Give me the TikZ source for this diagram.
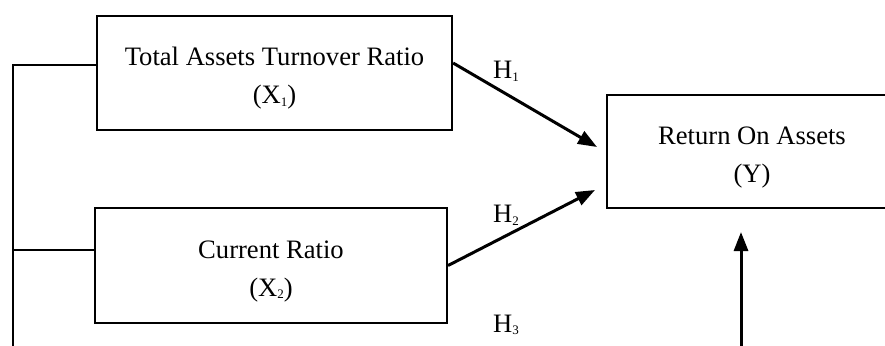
\documentclass[tikz,border=0pt]{standalone}
\usepackage{fontspec}
\setmainfont{Liberation Serif}
\usetikzlibrary{arrows.meta,calc}
% small lowered index digit, as in X1, H1
\newcommand{\lowidx}[1]{\raisebox{-0.1em}{\fontsize{13}{13}\selectfont #1}}
% extra room above the first line of a box text
\newcommand{\topstrut}{\rule{0pt}{29pt}}
\begin{document}
\begin{tikzpicture}[x=1pt,y=-1pt,
  box/.style={draw,line width=2.2pt,align=center,inner sep=0pt,
    font=\fontsize{26.6}{38}\selectfont},
  link/.style={line width=2.4pt},
  arr/.style={line width=3pt,-{Triangle[length=19pt,width=14pt]}},
  hyp/.style={font=\fontsize{26.6}{26.6}\selectfont}]
\useasboundingbox (0,0) rectangle (885,345);
\clip (0,0) rectangle (885,345);
\fill[white] (0,0) rectangle (885,345);

% variables
\node[box,minimum width=355pt,minimum height=114pt] (x1) at (274.5,73)
  {\topstrut Total Assets Turnover Ratio\\(X\lowidx{1})};
\node[box,minimum width=352pt,minimum height=115pt] (x2) at (271,265.5)
  {\topstrut Current Ratio\\(X\lowidx{2})};
\node[box,minimum width=290pt,minimum height=113pt] (y) at (752,151.5)
  {\topstrut Return On Assets\\(Y)};

% common bus on the left
\coordinate (bustop) at (13,65);
\coordinate (tap2) at (13,250);
\coordinate (busend) at (13,350);
\draw[link] (x1.west |- bustop) -- (bustop) -- (busend);
\draw[link] (x2.west |- tap2) -- (tap2);

% hypothesis arrows
\coordinate (h1end) at (597,147);
\coordinate (h2end) at (595,190);
\draw[arr] ($(x1.east)+(0,-10)$) -- (h1end);
\draw[arr] (x2.east) -- (h2end);
\coordinate (upstart) at (741,350);
\coordinate (uptip) at (741,232);
\draw[arr] (upstart) -- (uptip);

% hypothesis labels
\node[hyp] (h1) at (506,71) {H\lowidx{1}};
\node[hyp] (h2) at (506,215) {H\lowidx{2}};
\node[hyp] (h3) at (506,325) {H\lowidx{3}};
\end{tikzpicture}
\end{document}
